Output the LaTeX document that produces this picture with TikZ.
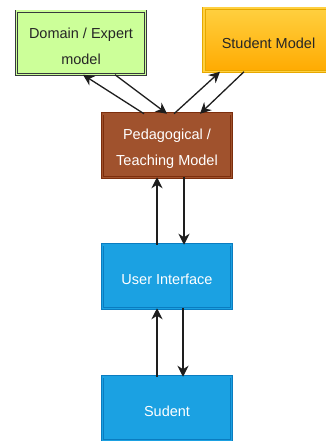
\documentclass[tikz,border=0pt]{standalone}
\usepackage{fontspec}
\setmainfont{Liberation Sans}
\usetikzlibrary{arrows.meta,calc}
\definecolor{domfill}{HTML}{CCFF99}
\definecolor{domline}{HTML}{36393D}
\definecolor{stutop}{HTML}{FFD040}
\definecolor{stubot}{HTML}{FFAA00}
\definecolor{stuline}{HTML}{E6A800}
\definecolor{pedfill}{HTML}{A0522D}
\definecolor{pedline}{HTML}{6D1F00}
\definecolor{uifill}{HTML}{1BA1E2}
\definecolor{uiline}{HTML}{0A7CC0}
\definecolor{arrcol}{HTML}{1E1E1E}
\begin{document}
\begin{tikzpicture}[x=1pt,y=-1pt,
  box/.style={rectangle, minimum width=129pt, minimum height=63.5pt, inner sep=0pt, outer sep=0pt,
    line width=0.8pt, double distance=1.5pt},
  lbl/.style={align=center, inner sep=0pt, yshift=-3pt, font=\fontsize{14.5}{26}\selectfont},
  dombox/.style={box, draw=domline, double=domfill, fill=domfill,
    label={[lbl, text=black!85]center:#1}},
  stubox/.style={box, draw=stuline, double=stutop, top color=stutop, bottom color=stubot,
    label={[lbl, text=black!85]center:#1}},
  pedbox/.style={box, draw=pedline!70!pedfill, double=pedfill, fill=pedfill,
    label={[lbl, text=white]center:#1}},
  uibox/.style={box, draw=uiline, double=uifill, fill=uifill,
    label={[lbl, text=white]center:#1}},
  conn/.style={draw=arrcol, line width=1.3pt, -{Stealth[length=11pt,width=11pt,inset=3.5pt]}}]
\useasboundingbox (0,0) rectangle (326,441);
\clip (0,0) rectangle (326,441);
\fill[white] (0,0) rectangle (326,441);

\node[dombox={Domain / Expert\\model}] (dom) at (81,43) {};
\node[stubox={Student Model}] (stu) at (268.5,40) {};
\node[pedbox={Pedagogical /\\Teaching Model}] (ped) at (167,145.5) {};
\node[uibox={User Interface}] (ui) at (167,276.5) {};
\node[uibox={Sudent}] (sud) at (167,408.5) {};

\draw[conn] ([xshift=-23pt]ped.north) -- ([xshift=2pt]dom.south);
\draw[conn] ([xshift=34pt]dom.south) -- (ped.north);
\draw[conn] ([xshift=7pt]ped.north) -- ([xshift=-48.5pt]stu.south);
\draw[conn] ([xshift=-24.5pt]stu.south) -- ([xshift=33pt]ped.north);

\draw[conn] ([xshift=-10pt]ui.north) -- ([xshift=-10pt]ped.south);
\draw[conn] ([xshift=17pt]ped.south) -- ([xshift=17pt]ui.north);
\draw[conn] ([xshift=-10pt]sud.north) -- ([xshift=-10pt]ui.south);
\draw[conn] ([xshift=16pt]ui.south) -- ([xshift=16pt]sud.north);
\end{tikzpicture}
\end{document}
